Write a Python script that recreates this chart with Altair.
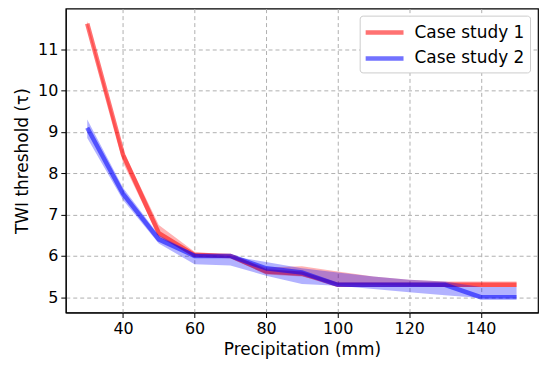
import altair as alt
import pandas as pd

precip = [30, 40, 50, 60, 70, 80, 90, 100, 110, 120, 130, 140, 150]

cs1_mean = [11.62, 8.45, 6.55, 6.02, 6.0, 5.62, 5.57, 5.3, 5.3, 5.3, 5.3, 5.3, 5.3]
cs1_low = [11.55, 8.25, 6.45, 5.98, 5.95, 5.55, 5.5, 5.3, 5.3, 5.28, 5.25, 5.25, 5.25]
cs1_high = [11.68, 8.55, 6.75, 6.1, 6.02, 5.72, 5.75, 5.62, 5.5, 5.42, 5.38, 5.38, 5.38]

cs2_mean = [9.1, 7.5, 6.4, 6.0, 6.0, 5.7, 5.6, 5.3, 5.3, 5.3, 5.3, 5.0, 5.0]
cs2_low = [8.85, 7.35, 6.3, 5.8, 5.77, 5.52, 5.32, 5.28, 5.2, 5.12, 5.05, 4.98, 4.98]
cs2_high = [9.3, 7.65, 6.5, 6.05, 6.0, 5.85, 5.7, 5.6, 5.5, 5.42, 5.38, 5.25, 5.25]

series = ["Case study 1", "Case study 2"]
colors = ["red", "blue"]

rows = []
for name, m, lo, hi in [(series[0], cs1_mean, cs1_low, cs1_high),
                        (series[1], cs2_mean, cs2_low, cs2_high)]:
    for p, a, b, c in zip(precip, m, lo, hi):
        rows.append({"precip": p, "mean": a, "low": b, "high": c, "series": name})
df = pd.DataFrame(rows)

xscale = alt.Scale(domain=[24, 156], nice=False, zero=False)
yscale = alt.Scale(domain=[4.63, 11.98], nice=False, zero=False)
cscale = alt.Scale(domain=series, range=colors)

xax = alt.Axis(title="Precipitation (mm)", values=[40, 60, 80, 100, 120, 140],
               grid=True)
yax = alt.Axis(title="TWI threshold (τ)", values=[5, 6, 7, 8, 9, 10, 11],
               grid=True)

layers = []
for name, col in zip(series, colors):
    sub = df[df.series == name]
    band = alt.Chart(sub).mark_area(color=col, opacity=0.3).encode(
        x=alt.X("precip:Q", scale=xscale, axis=xax),
        y=alt.Y("low:Q", scale=yscale, axis=yax),
        y2="high:Q",
    )
    line = alt.Chart(sub).mark_line(strokeWidth=4.5, opacity=0.55).encode(
        x=alt.X("precip:Q", scale=xscale, axis=xax),
        y=alt.Y("mean:Q", scale=yscale, axis=yax),
        color=alt.Color("series:N", scale=cscale,
                        legend=alt.Legend(title=None, orient="none",
                                          legendX=295, legendY=7)),
    )
    layers += [band, line]

chart = alt.layer(*layers).properties(
    width=474, height=305,
    autosize=alt.AutoSizeParams(type="none"),
    padding={"left": 58, "top": 0, "right": 4, "bottom": 50},
).configure_view(
    stroke="black", strokeWidth=1.2
).configure_axis(
    labelFont="DejaVu Sans", titleFont="DejaVu Sans",
    labelFontSize=16, titleFontSize=17, titleFontWeight="normal",
    labelColor="black", titleColor="black",
    domainColor="black", tickColor="black", tickSize=5,
    gridColor="#b0b0b0", gridDash=[4, 3], gridWidth=1,
    labelPadding=3,
).configure_axisX(titlePadding=5).configure_axisY(titlePadding=6).configure_legend(
    labelFont="DejaVu Sans", labelFontSize=17, labelColor="black",
    symbolType="M-2,0H2", symbolSize=361, symbolStrokeWidth=4.5,
    symbolOffset=8,
    symbolOpacity=0.55, strokeColor="#cccccc", fillColor="white",
    cornerRadius=3, padding=5, rowPadding=5, labelOffset=18,
)

chart.save("out.html", embed_options={"renderer": "svg", "actions": False})
